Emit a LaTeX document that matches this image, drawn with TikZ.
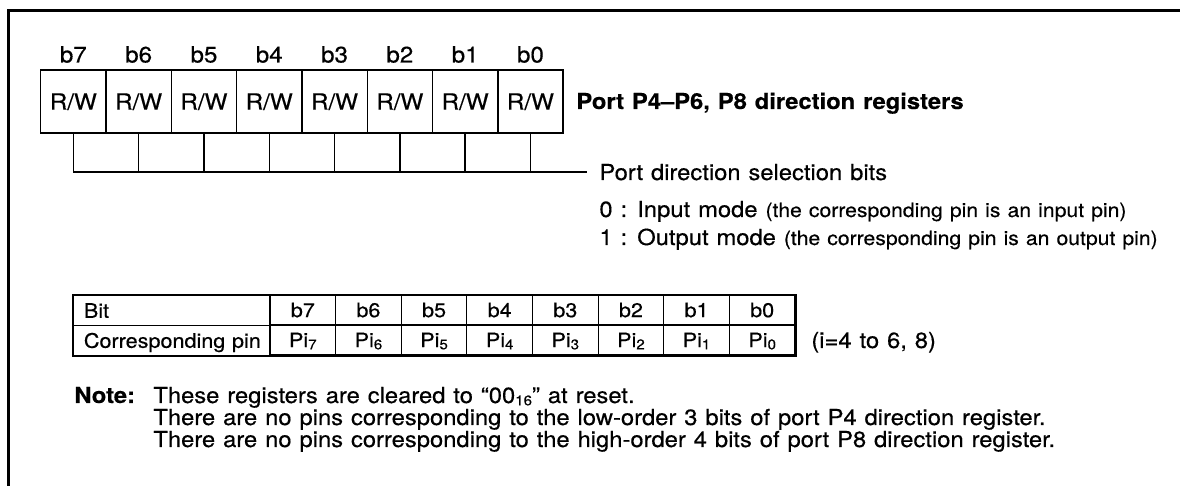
\documentclass[tikz,border=0pt]{standalone}
\usepackage{fontspec}
\setmainfont{TeX Gyre Heros}[FakeStretch=1.08,WordSpace=1.2,FakeBold=0.4]
\newcommand\smallidx[1]{\raisebox{-0.2ex}{\fontsize{7}{8}\selectfont #1}}
\begin{document}
\begin{tikzpicture}[x=0.5pt,y=-0.5pt,
  mainf/.style={font=\fontsize{11}{13}\selectfont},
  boldf/.style={font=\fontsize{11}{13}\selectfont\bfseries},
  reg/.style={draw,line width=0.7pt,minimum width=32.65pt,minimum height=31.5pt,inner sep=0pt,text height=8.2pt,text depth=0pt,font=\fontsize{11.2}{13}\selectfont},
  bitlbl/.style={inner sep=0pt,anchor=base,font=\fontsize{11.2}{13}\selectfont},
  txt/.style={inner sep=0pt,anchor=base west,mainf},
  tcell/.style={draw,line width=0.6pt,minimum width=32.81pt,minimum height=15pt,inner sep=0pt,text height=7.2pt,text depth=0pt,font=\fontsize{10}{12}\selectfont},
  thead/.style={tcell,anchor=north west,text width=88pt,align=left,inner xsep=5.3pt},
  conn/.style={line width=0.7pt},
  frameline/.style={line width=1.5pt}]
\useasboundingbox (0,0) rectangle (1180,486);
% frame
\coordinate (fbl) at (8,490);
\coordinate (ftl) at (8,11);
\coordinate (ftr) at (1184,11);
\draw[frameline] (fbl) -- (ftl) -- (ftr);
% register cells
\foreach \k in {0,...,7}{
  \pgfmathtruncatemacro\bi{7-\k}
  \node[reg] (r\bi) at ({73.35+65.3*\k},101.5) {R/W};
  \node[bitlbl] (l\bi) at ({73.35+65.3*\k},62.5) {b\bi};
  \coordinate (s\bi) at ({73.35+65.3*\k},172);
  \draw[conn] (r\bi.south) -- (s\bi);
}
\node[txt,boldf] (title) at (576,109) {Port P4–P6, P8 direction registers};
\coordinate (send) at (587,172);
\draw[conn] (s7) -- (send);
\node[txt] (dirbits) at (599,180) {Port direction selection bits};
\node[txt] (mode0) at (599,217) {0 : Input mode {\fontsize{9.8}{12}\selectfont(the corresponding pin is an input pin)}};
\node[txt] (mode1) at (599,245) {1 : Output mode {\fontsize{9.8}{12}\selectfont(the corresponding pin is an output pin)}};
% table
\node[thead] (hbit) at (72.7,295) {Bit};
\node[thead] (hpin) at (72.7,325) {\mbox{Corresponding pin}};
\foreach \k in {0,...,7}{
  \pgfmathtruncatemacro\bi{7-\k}
  \node[tcell] (tb\bi) at ({270+65.625*(\k+0.5)},310) {b\bi};
  \node[tcell] (tp\bi) at ({270+65.625*(\k+0.5)},340) {Pi\smallidx{\bi}};
}
\draw[line width=1pt] (hbit.north west) rectangle (tp0.south east);
\node[txt] (irange) at (811,348) {(i=4 to 6, 8)};
% notes
\node[txt,boldf] (note) at (74,403) {Note:};
\node[txt] (n1) at (153,403) {These registers are cleared to “00\smallidx{16}” at reset.};
\node[txt] (n2) at (153,425) {There are no pins corresponding to the low-order 3 bits of port P4 direction register.};
\node[txt] (n3) at (153,447) {There are no pins corresponding to the high-order 4 bits of port P8 direction register.};
\end{tikzpicture}
\end{document}
